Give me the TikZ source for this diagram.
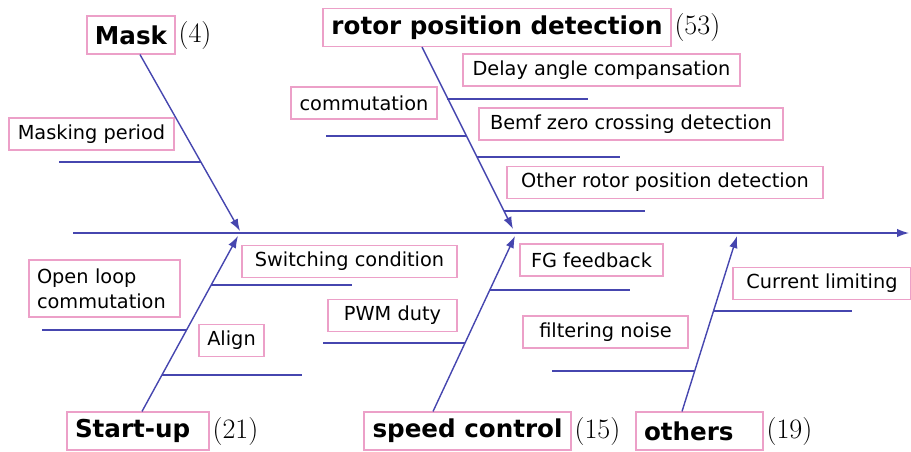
\documentclass[tikz,border=0pt]{standalone}
\usepackage{fontspec}
\newfontfamily\fishfont{DejaVu Sans}
\usetikzlibrary{positioning,arrows.meta}
\definecolor{bonecol}{RGB}{70,70,175}
\definecolor{boxcol}{RGB}{236,160,200}
\tikzset{
  catbox/.style={draw=boxcol, line width=0.65pt, inner xsep=0.16cm, minimum height=0.76cm, font=\fishfont\bfseries\fontsize{14}{16}\selectfont},
  causebox/.style={draw=boxcol, line width=0.65pt, inner xsep=0.16cm, minimum height=0.64cm, font=\fishfont\fontsize{11}{14}\selectfont},
  count/.style={inner sep=1pt, font=\fontsize{16}{18}\selectfont},
  bone/.style={draw=bonecol, line width=0.8pt, -{Latex[length=2.4mm,width=1.7mm]}},
  rib/.style={draw=bonecol, line width=0.8pt}
}
\begin{document}
\begin{tikzpicture}[x=0.02cm, y=-0.02cm]
  \useasboundingbox (0,0) rectangle (911,451);

  % main spine
  \coordinate (tail) at (73,233);
  \coordinate (head) at (909,233);
  \draw[bone] (tail) -- (head);

  % categories
  \node[catbox, minimum width=1.72cm] (mask) at (131,35) {Mask};
  \node[count, right=0.5pt of mask] (maskn) {(4)};
  \node[catbox, minimum width=6.96cm] (rotor) at (497,27.5) {rotor position detection};
  \node[count, right=0.5pt of rotor] (rotorn) {(53)};
  \node[catbox, text width=2.52cm, align=left] (startup) at (138,431) {Start-up};
  \node[count, right=0.5pt of startup] (startupn) {(21)};
  \node[catbox, minimum width=4.14cm] (speed) at (467.5,431) {speed control};
  \node[count, right=0.5pt of speed] (speedn) {(15)};
  \node[catbox, text width=2.22cm, align=left] (others) at (699.5,431) {others};
  \node[count, right=0.5pt of others] (othersn) {(19)};

  % causes
  \node[causebox, minimum width=3.30cm] (maskper) at (91.5,134) {Masking period};
  \node[causebox, minimum width=2.92cm] (commut) at (364,103) {commutation};
  \node[causebox, minimum width=5.54cm] (delay) at (601.5,70) {Delay angle compansation};
  \node[causebox, minimum width=6.08cm] (bemf) at (631,124) {Bemf zero crossing detection};
  \node[causebox, minimum width=6.32cm] (otherpos) at (665,182.5) {Other rotor position detection};
  \node[causebox, minimum width=4.30cm] (switch) at (349.5,261.5) {Switching condition};
  \node[causebox, text width=2.70cm, align=left, minimum height=1.14cm] (openloop) at (104.5,288.5) {Open loop\\commutation};
  \node[causebox, minimum width=1.30cm] (align) at (231.5,340.5) {Align};
  \node[causebox, minimum width=2.58cm] (pwm) at (392.5,315.5) {PWM duty};
  \node[causebox, minimum width=2.86cm] (fg) at (591.5,260) {FG feedback};
  \node[causebox, minimum width=3.30cm] (filt) at (605.5,332) {filtering noise};
  \node[causebox, minimum width=3.56cm] (curr) at (822,283.5) {Current limiting};

  % bones
  \coordinate (maskhead) at (240,231);
  \coordinate (rotorhead) at (513,229);
  \coordinate (startuphead) at (238,236);
  \coordinate (speedhead) at (515,236);
  \coordinate (othershead) at (737,236);
  \draw[bone] ([xshift=0.18cm]mask.south) -- (maskhead);
  \draw[bone] ([xshift=-1.5cm]rotor.south) -- (rotorhead);
  \draw[bone] ([xshift=0.08cm]startup.north) -- (startuphead);
  \draw[bone] ([xshift=-0.69cm]speed.north) -- (speedhead);
  \draw[bone] ([xshift=-0.35cm]others.north) -- (othershead);

  % ribs
  \coordinate (maskperA) at (59,162);    \coordinate (maskperB) at (200.6,162);
  \coordinate (delayA) at (447.3,99);    \coordinate (delayB) at (588,99);
  \coordinate (commutA) at (326,136);    \coordinate (commutB) at (466,136);
  \coordinate (bemfA) at (476.6,157);    \coordinate (bemfB) at (620,157);
  \coordinate (otherposA) at (503.9,211); \coordinate (otherposB) at (645,211);
  \coordinate (switchA) at (211.1,285);  \coordinate (switchB) at (352,285);
  \coordinate (openloopA) at (42,330);   \coordinate (openloopB) at (186.4,330);
  \coordinate (alignA) at (161.7,375);   \coordinate (alignB) at (302,375);
  \coordinate (pwmA) at (323,343);       \coordinate (pwmB) at (464.9,343);
  \coordinate (fgA) at (489.7,290);      \coordinate (fgB) at (630,290);
  \coordinate (currA) at (713.4,311);    \coordinate (currB) at (852,311);
  \coordinate (filtA) at (552,371);      \coordinate (filtB) at (694.6,371);
  \foreach \r in {maskper,delay,commut,bemf,otherpos,switch,openloop,align,pwm,fg,curr,filt}
    \draw[rib] (\r A) -- (\r B);
\end{tikzpicture}
\end{document}
